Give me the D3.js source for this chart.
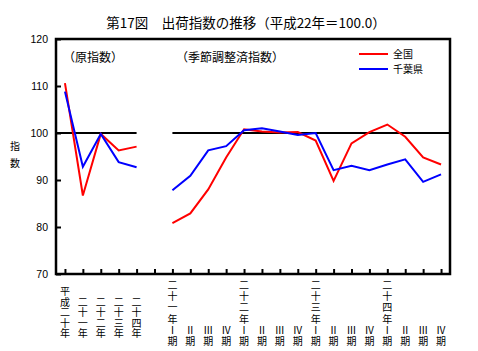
<!DOCTYPE html>
<html><head><meta charset="utf-8">
<script src="https://cdn.jsdelivr.net/npm/d3@7"></script>
<style>
body{margin:0;background:#fff;}
svg{display:block;font-family:"Noto Sans CJK JP","Liberation Sans",sans-serif;}
</style></head>
<body><svg id="c" width="478" height="351"></svg>
<script>
// ---- data ----
const annualLabels = ["平成二十年","二十一年","二十二年","二十三年","二十四年"];
const quarterLabels = ["二十一年Ⅰ期","Ⅱ期","Ⅲ期","Ⅳ期","二十二年Ⅰ期","Ⅱ期","Ⅲ期","Ⅳ期",
                       "二十三年Ⅰ期","Ⅱ期","Ⅲ期","Ⅳ期","二十四年Ⅰ期","Ⅱ期","Ⅲ期","Ⅳ期"];
const annualNational = [110.6, 86.7, 99.8, 96.3, 97.1];
const annualChiba    = [108.8, 92.8, 99.8, 93.8, 92.7];
const quarterNational = [80.8, 82.9, 88.0, 94.8, 100.8, 100.3, 100.1, 100.2, 98.4, 89.8, 97.8, 100.2, 101.8, 99.2, 94.8, 93.3];
const quarterChiba    = [87.8, 90.9, 96.3, 97.2, 100.6, 101.0, 100.3, 99.6, 100.0, 92.1, 93.0, 92.1, 93.3, 94.4, 89.6, 91.2];
const yTicks = [70, 80, 90, 100, 110, 120];
const seriesNames = ["全国", "千葉県"];
const seriesColors = ["#ff0000", "#0000ff"];

// ---- layout ----
const svg = d3.select("#c");
const L = 56, R = 450, T = 39, B = 274;
const keys = [...annualLabels.map((d,i)=>"a"+i), "gap", ...quarterLabels.map((d,i)=>"q"+i)];
const x = d3.scalePoint().domain(keys).range([L, R]).padding(0.5);
const y = d3.scaleLinear().domain([70, 120]).range([B, T]);

// title
svg.append("text").attr("x", 246).attr("y", 28).attr("text-anchor","middle")
  .attr("font-size", 13.5).text("第17図　出荷指数の推移（平成22年＝100.0）");

// y axis label
svg.append("text").attr("x", 15).attr("y", 150).attr("text-anchor","middle").attr("font-size",10).text("指");
svg.append("text").attr("x", 15).attr("y", 167).attr("text-anchor","middle").attr("font-size",10).text("数");

// y axis
const yAxis = svg.append("g").attr("transform", `translate(${L},0)`)
  .call(d3.axisRight(y).tickValues(yTicks).tickSize(5).tickFormat(""));
yAxis.select(".domain").remove();
yAxis.selectAll("line").attr("stroke","#000").attr("stroke-width",2);
svg.append("g").selectAll("text").data(yTicks).join("text")
  .attr("x", 48).attr("y", d => y(d) + 3.5).attr("text-anchor","end")
  .attr("font-family","Liberation Sans, Arial, sans-serif").attr("font-size",10.5).text(d => d);

// x ticks (inward)
const xAxis = svg.append("g").attr("transform", `translate(0,${B})`)
  .call(d3.axisTop(x).tickSize(5).tickFormat(""));
xAxis.select(".domain").remove();
xAxis.selectAll("line").attr("stroke","#000").attr("stroke-width",2);

// frame
svg.append("rect").attr("x", L).attr("y", T).attr("width", R-L).attr("height", B-T)
  .attr("fill","none").attr("stroke","#000").attr("stroke-width",2.5);

// reference lines at 100
svg.append("line").attr("x1", L).attr("x2", x("a4")).attr("y1", y(100)).attr("y2", y(100))
  .attr("stroke","#000").attr("stroke-width",2);
svg.append("line").attr("x1", x("q0")).attr("x2", R).attr("y1", y(100)).attr("y2", y(100))
  .attr("stroke","#000").attr("stroke-width",2);

// lines
const line = d3.line().x(d => x(d[0])).y(d => y(d[1]));
const segs = [
  [annualNational.map((v,i)=>["a"+i,v]), 0],
  [annualChiba.map((v,i)=>["a"+i,v]), 1],
  [quarterNational.map((v,i)=>["q"+i,v]), 0],
  [quarterChiba.map((v,i)=>["q"+i,v]), 1]
];
segs.forEach(([pts, s]) => {
  svg.append("path").attr("d", line(pts)).attr("fill","none")
    .attr("stroke", seriesColors[s]).attr("stroke-width", 2);
});

// annotations
svg.append("text").attr("x", 63).attr("y", 62).attr("font-size", 12).text("（原指数）");
svg.append("text").attr("x", 176).attr("y", 62).attr("font-size", 12).text("（季節調整済指数）");

// legend
seriesNames.forEach((n, i) => {
  const ly = 54 + i*15;
  svg.append("line").attr("x1", 359).attr("x2", 388).attr("y1", ly).attr("y2", ly)
    .attr("stroke", seriesColors[i]).attr("stroke-width", 2);
  svg.append("text").attr("x", 393).attr("y", ly + 3.5).attr("font-size", 10).text(n);
});

// x labels (vertical, one character per text)
function vlabel(key, label, bottom, step) {
  const chars = Array.from(label);
  const g = svg.append("g");
  chars.forEach((c, j) => {
    g.append("text").attr("x", x(key)).attr("y", bottom - (chars.length-1-j)*step + 4)
      .attr("text-anchor","middle").attr("font-size", 10).text(c);
  });
}
annualLabels.forEach((l,i) => vlabel("a"+i, l, 333, 10.5));
quarterLabels.forEach((l,i) => vlabel("q"+i, l, 341, 11.2));
</script></body></html>
